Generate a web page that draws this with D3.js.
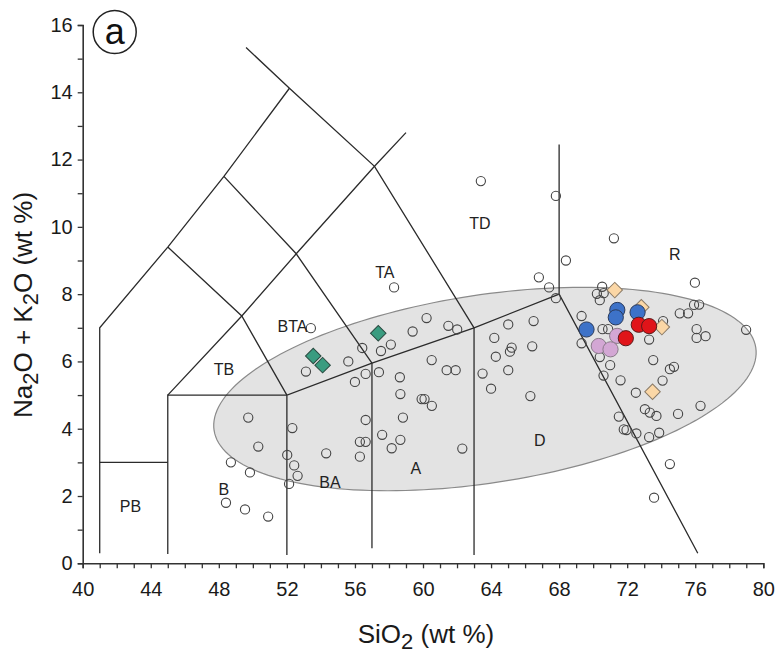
<!DOCTYPE html>
<html><head><meta charset="utf-8">
<script src="https://cdn.jsdelivr.net/npm/d3@7"></script>
<style>
body{margin:0;background:#fff}
svg{display:block}
text{font-family:"Liberation Sans",Arial,sans-serif}
</style>
</head><body>
<svg id="chart" width="780" height="655"></svg>
<script>
// ---------- DATA ----------
const xTicks = d3.range(40, 81, 1);
const xTickLabels = [40,44,48,52,56,60,64,68,72,76,80];
const yTicks = d3.range(0, 17, 1);
const yTickLabels = [0,2,4,6,8,10,12,14,16];

// TAS field boundaries (SiO2, Na2O+K2O)
const boundaries = [
  [[41,0.3],[41,7],[45,9.4],[48.3,11.5],[52.15,14.12]],
  [[49.6,15.33],[52.15,14.12],[57.15,11.8],[63,7]],
  [[41,3],[45,3]],
  [[45,0.28],[45,5],[52,5]],
  [[45,9.4],[49.35,7.35],[52,5]],
  [[48.3,11.5],[52.55,9.2],[57,5.95]],
  [[45,5],[49.35,7.35],[52.55,9.2],[57.15,11.8],[59.0,12.8]],
  [[52,0.25],[52,5],[57,5.95],[63,7],[68,8]],
  [[57,0.45],[57,5.95]],
  [[63,0.25],[63,7]],
  [[68,12.45],[68,8],[76.15,0.3]]
];

const fieldLabels = ["PB","B","BA","A","D","TB","BTA","TA","TD","R"];
const fieldLabelX = [42.81,48.30,54.53,59.58,66.87,48.30,52.33,57.76,63.35,74.80];
const fieldLabelY = [1.69,2.21,2.42,2.83,3.67,5.78,7.05,8.66,10.12,9.19];

const openSamples = [
  [48.71,3.00],[49.83,2.70],[50.32,3.47],[48.42,1.80],[49.54,1.60],[50.90,1.39],[52.02,3.22],[52.43,2.91],
  [52.63,2.60],[52.13,2.36],[54.31,3.27],[56.29,3.17],[56.29,3.61],[56.63,3.61],[58.16,3.42],[49.73,4.33],
  [52.32,4.02],[53.12,5.70],[53.41,6.99],[55.61,6.00],[56.00,5.39],[56.43,6.40],[56.63,5.63],[57.41,5.68],
  [57.53,6.31],[58.11,6.50],[59.39,6.89],[60.21,7.29],[61.49,7.06],[62.01,6.95],[58.30,8.20],[60.51,6.04],
  [61.39,5.74],[61.92,5.74],[63.50,5.64],[64.19,6.70],[64.28,6.14],[64.00,5.19],[58.64,5.53],[58.67,5.03],
  [59.92,4.88],[60.09,4.88],[60.52,4.68],[56.63,4.26],[58.82,4.33],[57.60,3.82],[58.67,3.67],[62.31,3.41],
  [65.01,7.10],[66.50,7.20],[65.21,6.41],[65.11,6.29],[66.42,6.45],[65.01,5.74],[66.31,4.97],[63.40,11.36],
  [67.81,10.92],[68.40,9.00],[66.81,8.50],[67.41,8.20],[67.81,7.88],[71.22,9.66],[75.98,8.34],[70.53,8.22],
  [70.22,8.01],[70.62,8.03],[70.39,7.82],[69.32,7.35],[75.09,7.43],[75.58,7.43],[75.93,7.68],[76.23,7.69],
  [74.11,7.20],[76.08,6.96],[76.08,6.70],[76.61,6.75],[78.99,6.94],[70.55,6.96],[70.88,6.96],[73.29,6.65],
  [69.32,6.54],[70.39,6.13],[71.00,5.89],[73.53,6.04],[74.51,5.77],[74.75,5.84],[70.61,5.58],[71.61,5.44],
  [74.08,5.43],[72.51,5.07],[73.04,4.58],[73.33,4.48],[73.72,4.38],[74.99,4.44],[76.31,4.68],[71.51,4.36],
  [71.80,3.98],[71.96,3.96],[72.54,3.86],[73.29,3.75],[73.88,3.88],[74.51,2.95],[73.58,1.95]
];
const wheatSamples = [[71.27,8.12],[72.83,7.61],[74.04,7.02],[73.49,5.10]];
const tealSamples = [[53.55,6.16],[54.10,5.89],[57.37,6.84]];
const pinkSamples = [[71.41,6.76],[70.33,6.46],[71.02,6.36]];
const blueSamples = [[71.42,7.53],[71.33,7.31],[72.61,7.46],[69.61,6.95]];
const redSamples = [[72.68,7.09],[73.29,7.05],[71.92,6.69]];

// field ellipse: centre in data units
const ellipseCentre = [63.64, 5.18];

// ---------- CHART ----------
const svg = d3.select("#chart");
const x = d3.scaleLinear().domain([40,80]).range([82.7,763.3]);
const y = d3.scaleLinear().domain([0,16]).range([563.3,25]);

// ellipse (pixel geometry around centre)
const ea = 274, eb = 94, eth = 8.7*Math.PI/180;
const ecx = x(ellipseCentre[0]), ecy = y(ellipseCentre[1]);
const ePts = d3.range(0, 361, 2).map(d => {
  const t = d*Math.PI/180;
  return [ecx + ea*Math.cos(t)*Math.cos(eth) + eb*Math.sin(t)*Math.sin(eth),
          ecy - ea*Math.cos(t)*Math.sin(eth) + eb*Math.sin(t)*Math.cos(eth)];
});
svg.append("path").attr("d", d3.line()(ePts) + "Z")
  .attr("fill","#e3e3e3").attr("stroke","#8a8a8a").attr("stroke-width",1.2);

// boundaries
const line = d3.line().x(d => x(d[0])).y(d => y(d[1]));
svg.append("g").selectAll("path").data(boundaries).join("path")
  .attr("d", line).attr("fill","none").attr("stroke","#2b2b2b").attr("stroke-width",1.3);

// axes
const xAxis = d3.axisBottom(x).tickValues(xTicks).tickSize(5).tickPadding(14)
  .tickFormat(d => xTickLabels.includes(d) ? d : "");
const gx = svg.append("g").attr("transform",`translate(0,${y(0)})`).call(xAxis);
const yAxis = d3.axisLeft(y).tickValues(yTicks).tickSize(5).tickPadding(5)
  .tickFormat(d => yTickLabels.includes(d) ? d : "");
const gy = svg.append("g").attr("transform",`translate(${x(40)},0)`).call(yAxis);
[gx, gy].forEach(g => {
  g.select(".domain").attr("stroke","#333").attr("stroke-width",1.6);
  g.selectAll(".tick line").attr("stroke","#333").attr("stroke-width",1.3);
  g.selectAll(".tick text").attr("fill","#1a1a1a").style("font-size","20px")
    .style("font-family","'Liberation Sans',Arial,sans-serif");
});

// open circles
svg.append("g").selectAll("circle").data(openSamples).join("circle")
  .attr("cx", d => x(d[0])).attr("cy", d => y(d[1])).attr("r", 4.6)
  .attr("fill","none").attr("stroke","#444").attr("stroke-width",1.1);

// field labels
svg.append("g").selectAll("text").data(fieldLabels).join("text")
  .attr("x", (d,i) => x(fieldLabelX[i])).attr("y", (d,i) => y(fieldLabelY[i]))
  .attr("text-anchor","middle").attr("dy","0.36em")
  .style("font-size","16px").attr("fill","#222").text(d => d);

// diamonds
const diamond = d3.symbol().type(d3.symbolSquare).size(120);
function diamonds(data, fill, stroke) {
  svg.append("g").selectAll("path").data(data).join("path")
    .attr("d", diamond)
    .attr("transform", d => `translate(${x(d[0])},${y(d[1])}) rotate(45)`)
    .attr("fill", fill).attr("stroke", stroke).attr("stroke-width", 1);
}
function dots(data, fill, stroke) {
  svg.append("g").selectAll("circle").data(data).join("circle")
    .attr("cx", d => x(d[0])).attr("cy", d => y(d[1])).attr("r", 7.6)
    .attr("fill", fill).attr("stroke", stroke).attr("stroke-width", 1);
}
diamonds(wheatSamples, "#fbd7a6", "#8a7a66");
diamonds(tealSamples, "#3a9c80", "#2a4a40");
dots(pinkSamples, "#d3a7d4", "#8a7a8a");
dots(blueSamples, "#3d72c8", "#2a3a5a");
dots(redSamples, "#e01419", "#5a1a1a");

// panel label
const px0 = x(40) + 32, py0 = y(16) + 7;
svg.append("circle").attr("cx", px0).attr("cy", py0).attr("r", 21.5)
  .attr("fill","#fff").attr("stroke","#222").attr("stroke-width",1.5);
svg.append("text").attr("x", px0).attr("y", py0).attr("dy","0.33em")
  .attr("text-anchor","middle").style("font-size","36px").attr("fill","#111").text("a");

// axis titles
const xt = svg.append("text").attr("x", 426).attr("y", 643).attr("text-anchor","middle")
  .style("font-size","26px").attr("fill","#1a1a1a");
xt.append("tspan").text("SiO");
xt.append("tspan").attr("dy", 6).style("font-size","22px").text("2");
xt.append("tspan").attr("dy", -6).text(" (wt %)");

const yt = svg.append("text").attr("transform","translate(32,418) rotate(-90)")
  .attr("text-anchor","start").style("font-size","26px").attr("fill","#1a1a1a");
yt.append("tspan").text("Na");
yt.append("tspan").attr("dy", 6).style("font-size","22px").text("2");
yt.append("tspan").attr("dy", -6).text("O + K");
yt.append("tspan").attr("dy", 6).style("font-size","22px").text("2");
yt.append("tspan").attr("dy", -6).text("O (wt %)");
</script>
</body></html>
